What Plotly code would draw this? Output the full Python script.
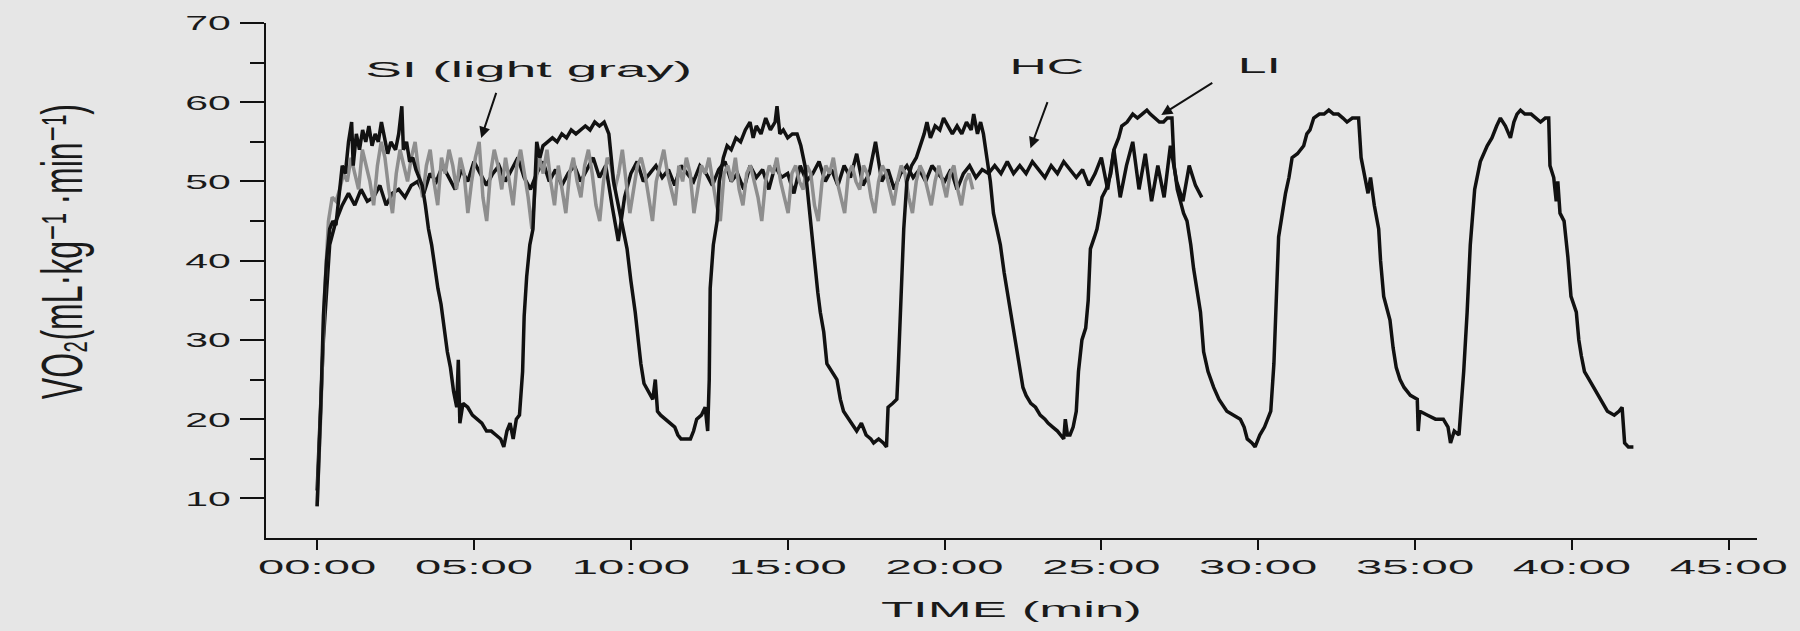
import numpy as np
import plotly.graph_objects as go

# ---------------- data ----------------
X_TICK_VALUES = [0, 5, 10, 15, 20, 25, 30, 35, 40, 45]
X_TICK_LABELS = ["00:00", "05:00", "10:00", "15:00", "20:00",
                 "25:00", "30:00", "35:00", "40:00", "45:00"]
Y_TICK_VALUES = [10, 20, 30, 40, 50, 60, 70]
Y_MINOR_VALUES = [15, 25, 35, 45, 55, 65]

# LI (long interval) : time in minutes, VO2
LI_TIME = [
    0.00, 0.05, 0.12, 0.20, 0.30, 0.40, 0.50, 0.60, 0.70, 0.80, 0.90, 1.00, 1.10, 1.15,
    1.25, 1.35, 1.45, 1.55, 1.65, 1.75, 1.85, 1.95, 2.05, 2.15, 2.25, 2.35, 2.50, 2.60,
    2.70, 2.75, 2.85, 2.95, 3.05, 3.15, 3.25, 3.35, 3.45, 3.55, 3.65, 3.75, 3.85, 3.95,
    4.05, 4.15, 4.25, 4.35, 4.45, 4.50, 4.55, 4.65, 4.80, 4.95, 5.10, 5.25, 5.40, 5.55,
    5.70, 5.85, 5.95, 6.05, 6.15, 6.25, 6.35, 6.45, 6.55, 6.60, 6.68, 6.78, 6.88, 6.95,
    7.00, 7.10, 7.20, 7.35, 7.50, 7.65, 7.80, 7.95, 8.10, 8.25, 8.40, 8.55, 8.70, 8.85,
    9.00, 9.15, 9.30, 9.38, 9.45, 9.55, 9.65, 9.75, 9.88, 10.00, 10.14, 10.25, 10.32, 10.42,
    10.55, 10.70, 10.78, 10.85, 10.95, 11.10, 11.25, 11.40, 11.50, 11.60, 11.75, 11.90, 12.00, 12.10,
    12.25, 12.37, 12.45, 12.50, 12.53, 12.63, 12.75, 12.82, 12.95, 13.07, 13.20, 13.35, 13.50, 13.65,
    13.80, 13.90, 14.00, 14.15, 14.30, 14.45, 14.60, 14.66, 14.75, 14.86, 15.00, 15.15, 15.30, 15.42,
    15.55, 15.65, 15.72, 15.80, 15.88, 15.96, 16.04, 16.15, 16.25, 16.40, 16.57, 16.68, 16.78, 16.95,
    17.10, 17.20, 17.35, 17.50, 17.65, 17.74, 17.90, 18.05, 18.15, 18.20, 18.35, 18.48, 18.52, 18.58,
    18.64, 18.70, 18.80, 18.95, 19.10, 19.23, 19.35, 19.44, 19.55, 19.70, 19.85, 19.97, 20.10, 20.25,
    20.40, 20.55, 20.70, 20.85, 20.93, 21.05, 21.15, 21.24, 21.35, 21.46, 21.56, 21.68, 21.78, 21.90,
    22.00, 22.10, 22.20, 22.30, 22.40, 22.50, 22.60, 22.75, 22.90, 23.05, 23.20, 23.30, 23.45, 23.60,
    23.70, 23.80, 23.85, 23.92, 24.00, 24.10, 24.20, 24.27, 24.38, 24.50, 24.58, 24.65, 24.78, 24.86,
    24.95, 25.02, 25.15, 25.30, 25.40, 25.55, 25.65, 25.82, 26.00, 26.15, 26.30, 26.45, 26.56, 26.70,
    26.85, 26.98, 27.10, 27.25, 27.32, 27.42, 27.52, 27.62, 27.73, 27.85, 27.94, 28.05, 28.16, 28.26,
    28.40, 28.58, 28.75, 29.00, 29.20, 29.43, 29.55, 29.65, 29.80, 29.90, 30.05, 30.20, 30.30, 30.40,
    30.50, 30.60, 30.65, 30.75, 30.87, 30.98, 31.08, 31.25, 31.45, 31.55, 31.65, 31.77, 31.95, 32.10,
    32.25, 32.40, 32.55, 32.70, 32.83, 33.00, 33.20, 33.28, 33.35, 33.50, 33.58, 33.70, 33.84, 33.90,
    34.00, 34.10, 34.20, 34.30, 34.40, 34.52, 34.65, 34.85, 35.07, 35.10, 35.15, 35.40, 35.65, 35.90,
    36.05, 36.13, 36.25, 36.40, 36.48, 36.55, 36.66, 36.76, 36.90, 37.08, 37.30, 37.45, 37.60, 37.72,
    37.88, 38.04, 38.15, 38.25, 38.36, 38.50, 38.70, 38.85, 39.00, 39.15, 39.26, 39.30, 39.42, 39.50,
    39.55, 39.62, 39.75, 39.87, 39.97, 40.14, 40.22, 40.30, 40.40, 40.55, 40.70, 40.90, 41.13, 41.35,
    41.50, 41.60, 41.68, 41.80, 41.96,
]
LI_VO2 = [
    9, 14, 22, 33, 40, 44, 45, 44.5, 48, 52, 51, 55, 57.5, 52,
    56, 54, 56.5, 55, 57, 54.5, 56, 55, 57.5, 55.5, 53.5, 55, 54, 56,
    59.5, 54, 55, 52.5, 53, 51.5, 50.5, 49.5, 47, 44, 42, 39, 36.5, 34.5,
    31.5, 28.5, 26.5, 23.5, 21.5, 27.5, 19.5, 22, 21.5, 20.5, 20, 19.5, 18.5, 18.5,
    18, 17.5, 16.5, 18.5, 19.5, 17.5, 20, 20.5, 26, 33, 38, 42, 44, 50,
    55, 53, 54.5, 55, 55.5, 55, 56, 55.5, 56.5, 56, 56.5, 57, 56.5, 57.5,
    57, 57.5, 56, 53, 50, 48, 46, 44, 41.5, 37.5, 33.5, 29.5, 27, 24.5,
    23.5, 22.5, 25, 21, 20.5, 20, 19.5, 19, 18, 17.5, 17.5, 17.5, 18.5, 20,
    20.5, 21.5, 18.5, 25, 36.5, 42, 45, 50, 53, 54.5, 54, 55.5, 55, 56.5,
    57.5, 55.5, 57, 56, 58, 56.5, 57.5, 59.5, 56, 56.5, 55.5, 56, 56, 54.5,
    52, 48, 45, 42, 39.5, 36, 33.5, 31, 27, 26, 25, 22.5, 21, 20,
    19, 18.5, 19.5, 18, 17.5, 17, 17.5, 17, 16.5, 21.5, 22, 22.5, 26, 32,
    37.5, 44, 50, 52, 53, 54.5, 56, 57.5, 55.5, 57, 56.5, 58, 57, 56,
    57, 56, 57.5, 56.5, 58.5, 56, 57.5, 56, 53, 50, 46, 44, 42, 38.5,
    36, 33.5, 31, 29, 26, 24, 23, 22, 21.5, 20.5, 20, 19.5, 19, 18.5,
    18, 17.5, 20, 18, 18, 19, 21, 26, 30, 31.5, 35, 41.5, 43, 44,
    46, 48, 49, 51, 54, 55.5, 57, 57.5, 58.5, 58, 58.5, 59, 58.5, 58,
    57.5, 57.5, 58, 58, 52, 49, 47.5, 46, 45, 42, 39, 36, 33.5, 28.5,
    26, 24, 22.5, 21, 20.5, 20, 19, 17.5, 17, 16.5, 18, 19, 20, 21,
    27, 37.5, 43, 45.5, 48.5, 50.5, 53, 53.5, 54.5, 56, 56.5, 58, 58.5, 58.5,
    59, 58.5, 58.5, 58, 57.5, 58, 58, 53, 51.5, 48.5, 50.5, 47, 44, 40,
    35.5, 34, 32.5, 29, 26.5, 25, 24, 23, 22.5, 18.5, 21, 20.5, 20, 20,
    19, 17, 18.5, 18, 22, 26, 33.5, 42, 49, 52.5, 54.5, 55.5, 57, 58,
    57, 55.5, 57.5, 58.5, 59, 58.5, 58.5, 58, 57.5, 58, 58, 52, 50.5, 47.5,
    50, 46, 45, 40.5, 35.5, 33.5, 30, 28, 26, 25, 24, 22.5, 21, 20.5,
    21, 21.5, 17, 16.5, 16.5,
]

# HC (continuous) : evenly spaced samples from 0 to HC_END minutes
HC_END = 28.2
HC_VO2 = [
    11, 30, 42, 45, 47, 48.5, 47, 49, 47.5, 48,
    49.5, 47, 48.5, 49, 48, 49.5, 50, 48.5, 51, 50,
    52, 50.5, 49, 51.5, 50, 52.5, 51, 49.5, 51, 52,
    50, 51.5, 53, 50.5, 49, 51, 52.5, 50, 51.5, 49.5,
    51, 52, 50, 51.5, 53, 50.5, 52, 47, 42.5, 48,
    51, 52.5, 50, 51, 52, 50.5, 51.5, 49.5, 52, 51,
    50, 52, 51, 49.5, 51.5, 52.5, 50, 51, 49, 52,
    50.5, 51.5, 49, 52, 50.5, 51, 48.5, 52, 50, 51,
    52.5, 50, 51.5, 49.5, 52, 50.5, 53.5, 49.5, 51, 55,
    50, 51.5, 49, 51, 52, 50.5, 51.5, 50, 52, 51,
    50, 51.5, 49, 51, 52, 50.5, 51.5, 51, 52, 51,
    52.5, 51, 52, 51, 52.5, 51.5, 50.5, 52, 51, 52.5,
    51.5, 50.5, 51.5, 49.5, 51, 53, 49, 54, 48, 52,
    55, 49, 53.5, 47.5, 52, 48, 54.5, 50, 47.5, 52,
    49.5, 48,
]

# SI (short interval, light gray) : evenly spaced samples from 0 to SI_END minutes
SI_END = 20.9
SI_VO2 = [
    9, 21, 36, 45, 48, 47.5, 49, 51, 50, 53,
    51, 49, 54, 52, 50, 47, 52, 55, 53, 49,
    46, 51, 54, 52, 50, 53, 55, 51, 48, 52,
    54, 50, 47, 53, 51, 54, 52, 49, 53, 51,
    46, 50, 53, 55, 48, 45, 51, 54, 52, 49,
    53, 50, 47, 52, 54, 51, 48, 44, 50, 53,
    51, 54, 50, 47, 52, 49, 46, 51, 53, 50,
    48, 52, 54, 51, 47, 45, 50, 53, 52, 49,
    51, 54, 50, 46, 49, 52, 53, 51, 48, 45,
    50, 52, 54, 51, 49, 47, 52, 50, 53, 51,
    46, 49, 52, 51, 53, 50, 47, 45, 51, 52,
    50, 53, 49, 47, 51, 52, 50, 48, 45, 50,
    52, 51, 53, 50, 48, 46, 51, 52, 50, 49,
    52, 51, 47, 45, 50, 52, 51, 53, 50, 48,
    46, 51, 52, 50, 49, 52, 51, 48, 46, 50,
    52, 51, 49, 47, 50, 52, 51, 48, 46, 50,
    52, 51, 49, 47, 50, 52, 50, 48, 51, 52,
    49, 47, 50, 51, 49,
]

hc_time = np.linspace(0, HC_END, len(HC_VO2))
si_time = np.linspace(0, SI_END, len(SI_VO2))

# ---------------- styling ----------------
BG = "#e6e6e6"
INK = "#111111"
GRAY = "#8e8e8e"
FONT = "Liberation Sans, DejaVu Sans, Arial, sans-serif"

fig = go.Figure()
fig.add_trace(go.Scatter(x=hc_time, y=HC_VO2, mode="lines", name="HC",
                         line=dict(color=INK, width=3.5), showlegend=False))
fig.add_trace(go.Scatter(x=si_time, y=SI_VO2, mode="lines", name="SI",
                         line=dict(color=GRAY, width=3.5), showlegend=False))
fig.add_trace(go.Scatter(x=LI_TIME, y=LI_VO2, mode="lines", name="LI",
                         line=dict(color=INK, width=3.5), showlegend=False))

fig.update_layout(
    width=1800, height=631,
    margin=dict(l=266, r=43, t=23, b=93),
    paper_bgcolor=BG, plot_bgcolor=BG,
    font=dict(family=FONT, color="#1a1a1a", size=21),
    showlegend=False,
)
fig.update_xaxes(
    range=[-1.63, 45.9], showgrid=False, zeroline=False,
    showline=True, linecolor=INK, linewidth=2,
    ticks="outside", ticklen=10, tickwidth=2, tickcolor=INK,
    tickvals=X_TICK_VALUES, ticktext=X_TICK_LABELS,
    tickfont=dict(size=21), ticklabelstandoff=-1,
)
fig.update_yaxes(
    range=[5, 70], showgrid=False, zeroline=False,
    showline=True, linecolor=INK, linewidth=2,
    ticks="outside", ticklen=24, tickwidth=2, tickcolor=INK,
    tickvals=Y_TICK_VALUES, tickfont=dict(size=21), ticklabelstandoff=5,
    minor=dict(tickvals=Y_MINOR_VALUES, ticks="outside", ticklen=14,
               tickwidth=2, tickcolor=INK),
)

annotations = [
    # axis titles
    dict(text="TIME (min)", xref="paper", yref="paper", x=0.5, y=-0.138,
         xanchor="center", yanchor="middle", showarrow=False, font=dict(size=22)),
    dict(text="VO\u2082(mL\u00b7kg\u207b\u00b9 \u00b7min\u207b\u00b9)",
         xref="paper", yref="paper", x=-0.1368, y=0.555, textangle=-90,
         xanchor="center", yanchor="middle", showarrow=False, font=dict(size=32)),
    # series labels, each with its pointer arrow (the text box is placed beside the arrow tail)
    dict(text="SI (light gray)", x=5.23, y=55.5, ax=15, ay=-45, showarrow=True,
         xanchor="center", yanchor="bottom", width=195, align="right", borderpad=10,
         arrowhead=2, arrowsize=1.1, arrowwidth=2, arrowcolor=INK, font=dict(size=22)),
    dict(text="HC", x=22.74, y=54.2, ax=17, ay=-46, showarrow=True,
         xanchor="center", yanchor="bottom", borderpad=22,
         arrowhead=2, arrowsize=1.1, arrowwidth=2, arrowcolor=INK, font=dict(size=22)),
    dict(text="LI", x=26.91, y=58.4, ax=51, ay=-32, showarrow=True,
         xanchor="left", yanchor="bottom", width=52, align="right", borderpad=3.5,
         arrowhead=2, arrowsize=1.1, arrowwidth=2, arrowcolor=INK, font=dict(size=22)),
]
fig.update_layout(annotations=annotations)

# The reference typography is horizontally stretched; reproduce it with SVG transforms.
post = """
(function(){
  document.body.style.margin = '0';
  document.body.style.overflow = 'hidden';
  var gd = document.getElementById('{plot_id}');
  function stretch(el, sx, sy, useCenter){
    try {
      var cur = el.getAttribute('transform') || '';
      if (cur.indexOf('scale(') >= 0) return;
      var bb = el.getBBox();
      var anc = el.getAttribute('text-anchor') || 'start';
      var cx;
      if (useCenter || anc === 'middle') { cx = bb.x + bb.width/2; }
      else if (anc === 'end') { cx = bb.x + bb.width; }
      else { cx = bb.x; }
      var cy = bb.y + bb.height/2;
      el.setAttribute('transform', cur + ' translate(' + cx + ',' + cy + ') scale(' + sx + ',' + sy + ') translate(' + (-cx) + ',' + (-cy) + ')');
    } catch(e) {}
  }
  function run(){
    gd.querySelectorAll('.xtick text').forEach(function(t){ stretch(t, 2.25, 1, false); });
    gd.querySelectorAll('.ytick text').forEach(function(t){ stretch(t, 1.95, 1, false); });
    gd.querySelectorAll('.annotation').forEach(function(a){
      var t = a.querySelector('text.annotation-text');
      if (!t || !t.textContent) return;
      var g = a.querySelector('.annotation-text-g');
      var tr = g ? (g.getAttribute('transform') || '') : '';
      var txt = t.textContent;
      if (tr.indexOf('rotate(-90') >= 0) { stretch(t, 1, 1.8, true); }
      else if (txt.indexOf('TIME') === 0) { stretch(t, 2.4, 1, true); }
      else if (txt.indexOf('SI') === 0) { stretch(t, 2.5, 1, true); }
      else { stretch(t, 2.35, 1, true); }
    });
  }
  run();
  setTimeout(run, 30);
  setTimeout(run, 300);
  if (gd.on) gd.on('plotly_afterplot', run);
})();
"""

fig.write_html("out.html", include_plotlyjs=True, config={"displayModeBar": False},
               post_script=post)
